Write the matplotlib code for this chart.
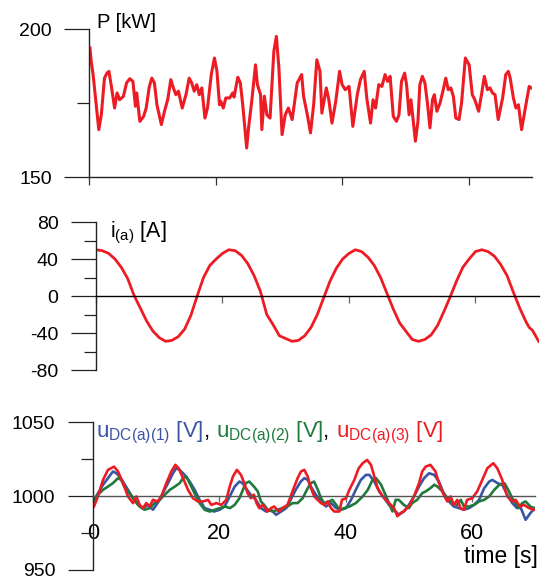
import numpy as np
import matplotlib
matplotlib.use('Agg')
import matplotlib.pyplot as plt
from matplotlib.ticker import MultipleLocator

plt.rcParams['font.family'] = ['Liberation Sans', 'DejaVu Sans']
plt.rcParams['mathtext.fontset'] = 'custom'
plt.rcParams['mathtext.rm'] = 'Liberation Sans'
plt.rcParams['mathtext.it'] = 'Liberation Sans:italic'
plt.rcParams['axes.unicode_minus'] = False

# ─────────────────────────────────────────────────────────────────────────────
# Data
# ─────────────────────────────────────────────────────────────────────────────
P_T = [0.1, 0.3, 0.6, 1.1, 1.5, 1.9, 2.4, 2.8, 3.1, 3.5, 4.0, 4.4, 4.8, 5.4,
       5.9, 6.4, 6.9, 7.3, 7.5, 8.0, 8.6, 9.0, 9.5, 9.9, 10.3, 10.7, 11.4,
       11.9, 12.4, 12.9, 13.3, 13.7, 14.1, 14.7, 15.3, 15.8, 16.2, 16.6, 17.0,
       17.4, 17.8, 18.3, 18.7, 19.3, 19.8, 20.2, 20.6, 20.8, 21.2, 21.6, 22.2,
       22.7, 22.9, 23.5, 23.9, 24.3, 24.9, 25.2, 25.7, 26.3, 26.6, 27.1, 27.3,
       27.7, 28.1, 28.6, 29.2, 29.6, 30.0, 30.5, 31.0, 31.5, 32.1, 32.9, 33.6,
       33.9, 34.5, 35.0, 35.5, 36.0, 36.5, 36.8, 37.5, 37.9, 38.4, 39.0, 39.6,
       40.0, 40.5, 41.1, 41.7, 42.4, 42.9, 43.5, 43.9, 44.5, 44.9, 45.3, 45.8,
       46.3, 46.8, 47.2, 47.6, 48.1, 48.6, 49.0, 49.4, 49.9, 50.2, 50.6, 50.9,
       51.6, 52.0, 52.3, 52.7, 53.1, 53.5, 53.9, 54.3, 54.6, 55.0, 55.5, 56.0,
       56.4, 56.8, 57.2, 57.6, 58.0, 58.5, 58.9, 59.5, 60.1, 60.6, 61.0, 61.6,
       62.1, 62.5, 63.0, 63.4, 63.8, 64.2, 64.7, 65.4, 65.9, 66.3, 66.6, 67.1,
       67.5, 67.9, 68.4, 68.9, 69.6, 69.9]
P_KW = [193.6, 189.1, 184.6, 174.4, 166.0, 171.0, 183.4, 185.1, 185.7, 180.6,
        173.3, 178.4, 176.1, 177.3, 181.8, 183.2, 182.3, 173.9, 178.4, 168.8,
        170.5, 173.3, 180.6, 183.4, 181.8, 174.4, 167.7, 172.2, 176.1, 182.9,
        180.1, 177.8, 179.0, 173.3, 177.8, 183.4, 181.8, 179.0, 181.2, 177.8,
        180.1, 169.9, 173.3, 184.6, 190.2, 185.7, 174.4, 175.6, 173.3, 176.7,
        176.7, 178.4, 177.0, 183.7, 181.8, 173.9, 159.8, 166.6, 175.6, 187.9,
        181.2, 177.8, 166.0, 177.3, 171.0, 169.9, 192.5, 197.5, 186.8, 164.3,
        171.0, 173.3, 169.4, 181.8, 184.6, 177.3, 171.0, 164.9, 174.4, 189.6,
        185.7, 171.6, 180.1, 176.1, 168.2, 175.6, 185.7, 181.2, 179.5, 180.6,
        167.1, 177.8, 182.9, 185.7, 176.7, 168.2, 176.1, 173.3, 181.2, 180.6,
        184.6, 182.3, 184.0, 170.5, 168.8, 171.0, 182.3, 185.1, 181.2, 171.0,
        176.1, 162.1, 168.8, 181.2, 184.0, 181.8, 175.0, 166.6, 176.1, 177.8,
        172.2, 175.0, 179.5, 183.4, 179.5, 180.1, 177.3, 169.9, 169.4, 175.0,
        190.2, 187.9, 177.8, 176.1, 172.2, 178.4, 184.0, 179.5, 180.1, 178.4,
        177.8, 169.4, 176.7, 184.6, 185.7, 183.4, 176.7, 173.3, 174.4, 166.0,
        172.2, 180.6, 180.1]

I_T = [0, 1, 2, 3, 4, 5, 6, 7, 8, 9, 10, 11, 12, 13, 14, 15, 16, 17, 18, 19,
       20, 21, 22, 23, 24, 25, 26, 27, 28, 29, 30, 31, 32, 33, 34, 35, 36, 37,
       38, 39, 40, 41, 42, 43, 44, 45, 46, 47, 48, 49, 50, 51, 52, 53, 54, 55,
       56, 57, 58, 59, 60, 61, 62, 63, 64, 65, 66, 67, 68, 68.5, 69, 69.5, 70]
I_A = [50, 49, 46, 40, 31, 19, 1, -13, -27, -38, -45, -49, -48, -44, -36, -21,
       0, 20, 33, 40, 46, 50, 49, 44, 35, 22, 5, -20, -31, -43, -46, -49, -48,
       -43, -34, -20, -2, 16, 30, 40, 46, 50, 48, 42, 33, 20, 3, -14, -29, -38,
       -47, -49, -47, -42, -32, -17, -1, 16, 31, 40, 48, 50, 48, 43, 34, 22, 4,
       -13, -28, -34, -37, -43, -49]

U1_T = [0.05, 0.84, 1.63, 2.42, 3.2, 3.74, 4.27, 4.79, 5.58, 6.37, 7.17, 7.95,
        8.74, 9.53, 10.06, 10.59, 11.1, 11.9, 12.7, 13.2, 13.75, 14.54, 15.33,
        16.12, 16.9, 17.7, 18.5, 19.18, 20.07, 20.86, 21.66, 22.45, 23.2, 23.7,
        24.2, 25.0, 25.8, 26.6, 27.4, 28.2, 29.0, 29.8, 30.6, 31.3, 32.1, 32.9,
        33.46, 34.0, 34.5, 35.3, 36.1, 36.9, 37.7, 38.5, 39.3, 40.05, 40.85,
        41.6, 42.4, 43.2, 43.74, 44.53, 45.3, 46.1, 46.85, 47.64, 48.4, 49.2,
        50.0, 50.8, 51.6, 52.4, 53.2, 54.0, 54.75, 55.5, 56.33, 57.1, 57.9,
        58.7, 59.5, 60.3, 61.1, 61.9, 62.7, 63.2, 64.0, 64.76, 65.55, 66.35,
        67.1, 67.6, 68.45, 69.2, 69.9]
U1_V = [996.4, 1002.0, 1007.7, 1012.2, 1016.7, 1015.5, 1013.3, 1009.9, 1004.3,
        998.6, 994.1, 991.9, 994.1, 990.8, 994.1, 997.5, 1002.0, 1008.8, 1015.5,
        1018.9, 1017.8, 1014.4, 1009.9, 1004.3, 997.5, 991.9, 990.8, 989.6,
        990.8, 993.0, 999.8, 1006.5, 1009.9, 1008.8, 1005.4, 1000.9, 997.5,
        991.9, 989.6, 990.8, 987.4, 989.6, 991.9, 997.5, 1004.3, 1009.9, 1012.2,
        1011.0, 1006.5, 1000.9, 996.4, 993.0, 995.3, 991.9, 990.8, 991.9, 997.5,
        1004.3, 1011.0, 1014.4, 1014.4, 1009.9, 1003.2, 998.6, 994.1, 990.8,
        987.4, 989.6, 994.1, 999.8, 1006.5, 1012.2, 1015.5, 1014.4, 1009.9,
        1002.0, 996.4, 993.0, 991.9, 990.8, 991.9, 994.1, 997.5, 1005.4, 1009.9,
        1011.0, 1008.8, 1007.7, 1000.9, 995.3, 991.9, 993.0, 984.0, 988.5, 991.9]

U2_T = [0.05, 0.84, 1.63, 2.42, 3.2, 4.0, 4.5, 5.0, 5.8, 6.6, 7.4, 8.2, 9.0,
        9.8, 10.6, 11.4, 12.2, 13.0, 13.75, 14.28, 14.8, 15.33, 16.1, 16.9,
        17.7, 18.5, 19.3, 20.1, 20.9, 21.7, 22.45, 23.2, 24.2, 24.76, 25.5,
        26.1, 26.6, 27.1, 27.66, 28.46, 29.25, 30.0, 30.8, 31.6, 32.4, 33.2,
        34.0, 34.5, 35.0, 35.6, 36.1, 36.6, 37.4, 37.9, 38.5, 39.0, 39.8, 40.6,
        41.6, 42.7, 43.5, 44.25, 44.8, 45.6, 46.4, 46.85, 47.4, 47.9, 48.4,
        49.2, 50.0, 50.5, 51.3, 52.1, 52.65, 53.4, 54.0, 54.5, 55.3, 56.1,
        56.9, 57.65, 58.2, 58.7, 59.5, 60.3, 61.1, 61.9, 62.7, 63.5, 64.3,
        65.1, 65.7, 66.35, 66.87, 67.4, 67.9, 68.45, 69.2, 69.8]
U2_V = [996.4, 1001.0, 1004.3, 1006.5, 1008.8, 1012.2, 1011.0, 1006.5, 1002.0,
        997.5, 993.0, 990.8, 991.9, 995.3, 997.5, 1001.0, 1004.3, 1006.5,
        1008.8, 1012.2, 1013.3, 1008.8, 1002.0, 995.3, 990.8, 989.6, 990.8,
        991.9, 993.0, 991.9, 994.1, 998.6, 1008.8, 1009.9, 1006.5, 1003.2,
        996.4, 994.1, 990.8, 989.6, 990.8, 991.9, 993.0, 995.3, 995.3, 998.6,
        1005.4, 1008.8, 1009.9, 1004.3, 998.6, 995.3, 996.4, 997.5, 994.1,
        990.8, 991.9, 993.0, 995.3, 999.8, 1004.3, 1011.0, 1012.2, 1007.7,
        999.8, 995.3, 989.6, 997.5, 997.5, 994.1, 991.9, 995.3, 997.5, 1002.0,
        1003.2, 1005.4, 1007.7, 1006.5, 1003.2, 998.6, 995.3, 994.1, 997.5,
        993.0, 993.0, 994.1, 996.4, 997.5, 999.8, 1004.3, 1007.7, 1008.8,
        1004.3, 998.6, 995.3, 991.9, 995.3, 996.4, 993.0, 991.9]

U3_T = [0.2, 0.84, 1.63, 2.42, 3.37, 4.0, 4.79, 5.58, 6.37, 6.9, 7.43, 7.95,
        8.48, 9.0, 9.53, 10.3, 10.96, 11.64, 12.43, 13.07, 13.59, 14.28, 15.07,
        15.86, 16.65, 17.44, 18.23, 18.76, 19.55, 20.34, 21.13, 21.66, 22.18,
        22.8, 23.45, 23.97, 24.5, 25.0, 25.5, 25.9, 26.35, 26.9, 27.66, 28.2,
        28.7, 29.4, 30.0, 30.8, 31.3, 31.88, 32.4, 32.93, 33.46, 33.99, 34.5,
        35.04, 35.57, 36.1, 36.6, 37.15, 37.68, 38.2, 39.0, 39.42, 40.05,
        40.58, 41.37, 42.06, 42.69, 43.4, 44.0, 44.53, 45.06, 45.85, 46.4,
        46.85, 47.64, 48.17, 48.7, 49.2, 50.0, 50.8, 51.6, 52.1, 52.65, 53.4,
        54.2, 54.75, 55.5, 56.07, 56.6, 57.1, 57.65, 58.17, 58.7, 59.2, 60.0,
        60.8, 61.6, 62.4, 63.34, 63.97, 64.76, 65.55, 66.35, 66.87, 67.56,
        68.2, 69.0, 69.8]
U3_V = [993.0, 1000.0, 1011.0, 1017.8, 1020.0, 1016.7, 1008.8, 999.8, 995.3,
        999.8, 994.1, 991.9, 995.3, 993.0, 997.5, 996.4, 1001.0, 1008.8, 1016.7,
        1021.2, 1018.9, 1012.2, 1004.3, 998.6, 996.4, 996.4, 997.5, 994.1,
        995.3, 994.1, 997.5, 1006.5, 1013.3, 1017.8, 1014.4, 1008.8, 1002.0,
        998.6, 1001.0, 995.3, 991.9, 994.1, 989.6, 991.9, 993.0, 989.6, 991.9,
        994.1, 999.8, 1006.5, 1012.2, 1016.7, 1017.8, 1013.3, 1005.4, 999.8,
        997.5, 995.3, 994.1, 996.4, 991.9, 989.6, 989.6, 997.5, 998.6, 1004.3,
        1011.0, 1018.9, 1022.3, 1024.5, 1021.2, 1013.3, 1005.4, 999.8, 997.5,
        995.3, 991.9, 986.4, 988.6, 989.8, 993.0, 999.8, 1008.8, 1016.7, 1020.0,
        1021.2, 1016.7, 1008.8, 1000.9, 996.4, 999.8, 994.1, 997.5, 991.9,
        990.8, 997.5, 998.6, 1003.2, 1011.0, 1018.9, 1022.3, 1018.9, 1011.0,
        999.8, 996.4, 997.5, 993.0, 994.1, 991.9, 990.8]

X_TICKS = [0, 20, 40, 60]

RED   = "#ED1C24"
BLUE  = "#3A55A4"
GREEN = "#1F7A3C"

W, H = 541, 576
FS = 14

# ─────────────────────────────────────────────────────────────────────────────
# Figure and axes (positions in pixels of the 541x576 canvas)
# ─────────────────────────────────────────────────────────────────────────────
fig = plt.figure(figsize=(W / 100, H / 100), dpi=100)

def px_axes(left, top, right, bottom):
    return fig.add_axes([left / W, 1 - bottom / H, (right - left) / W, (bottom - top) / H])

ax1 = px_axes(89.3, 29, 531.7, 177)
ax2 = px_axes(96.0, 222, 538.7, 370)
ax3 = px_axes(92.7, 422.3, 535.4, 570)

for ax in (ax1, ax2, ax3):
    ax.set_facecolor('none')
    ax.set_xlim(0, 70)
    ax.set_xticks(X_TICKS)
    ax.spines['top'].set_visible(False)
    ax.spines['right'].set_visible(False)
    ax.spines['left'].set_linewidth(1.0)
    ax.spines['left'].set_color('#222222')
    ax.tick_params(axis='y', which='major', length=18, width=0.9, pad=9,
                   labelsize=FS, color='#222222')
    ax.tick_params(axis='y', which='minor', length=9, width=0.9, color='#222222')

# ── P [kW] ────────────────────────────────────────────────────────────────────
ax1.plot(P_T, P_KW, color=RED, linewidth=2.2, solid_joinstyle='round')
ax1.set_ylim(150, 200)
ax1.set_yticks([150, 200])
ax1.yaxis.set_minor_locator(MultipleLocator(25))
ax1.spines['bottom'].set_linewidth(1.0)
ax1.spines['bottom'].set_color('#222222')
ax1.tick_params(axis='x', length=6, width=0.9, color='#333333', labelbottom=False)

# ── i(a) [A] ──────────────────────────────────────────────────────────────────
ax2.plot(I_T, I_A, color=RED, linewidth=2.0, solid_joinstyle='round')
ax2.set_ylim(-80, 80)
ax2.set_yticks([-80, -40, 0, 40, 80])
ax2.yaxis.set_minor_locator(MultipleLocator(20))
ax2.spines['bottom'].set_position(('data', 0))
ax2.spines['bottom'].set_linewidth(1.0)
ax2.spines['bottom'].set_color('black')
ax2.tick_params(axis='x', length=5, width=0.9, color='#666666', labelbottom=False)

# ── u_DC [V] ──────────────────────────────────────────────────────────────────
ax3.plot(U1_T, U1_V, color=BLUE, linewidth=1.9, solid_joinstyle='round')
ax3.plot(U2_T, U2_V, color=GREEN, linewidth=1.9, solid_joinstyle='round')
ax3.plot(U3_T, U3_V, color=RED, linewidth=1.9, solid_joinstyle='round')
ax3.set_ylim(950, 1050)
ax3.set_yticks([950, 1000, 1050])
ax3.yaxis.set_minor_locator(MultipleLocator(25))
ax3.spines['bottom'].set_position(('data', 1000))
ax3.spines['bottom'].set_linewidth(1.0)
ax3.spines['bottom'].set_color('#555555')
ax3.tick_params(axis='x', length=4, width=0.9, color='#666666', pad=15, labelsize=FS + 1.5)

# ── Labels ────────────────────────────────────────────────────────────────────
fig.text(97 / W, 1 - 13 / H, 'P [kW]', fontsize=FS + 0.5, va='top')
fig.text(110 / W, 1 - 220 / H, r'i$_{\mathrm{(a)}}$ [A]', fontsize=FS + 1.5, va='top')
fig.text(538 / W, 1 - 556 / H, 'time [s]', fontsize=FS + 2.5, ha='right', va='center')

LEGEND_PARTS = [
    (r'u$_{\mathrm{DC(a)(1)}}$ [V]', BLUE),
    (', ', 'black'),
    (r'u$_{\mathrm{DC(a)(2)}}$ [V]', GREEN),
    (', ', 'black'),
    (r'u$_{\mathrm{DC(a)(3)}}$ [V]', RED),
]
renderer = fig.canvas.get_renderer()
x = 96 / W
for s, c in LEGEND_PARTS:
    t = fig.text(x, 1 - 437 / H, s, color=c, fontsize=FS + 2, va='baseline')
    x += t.get_window_extent(renderer).width / W

plt.savefig("out.png", dpi=100)
